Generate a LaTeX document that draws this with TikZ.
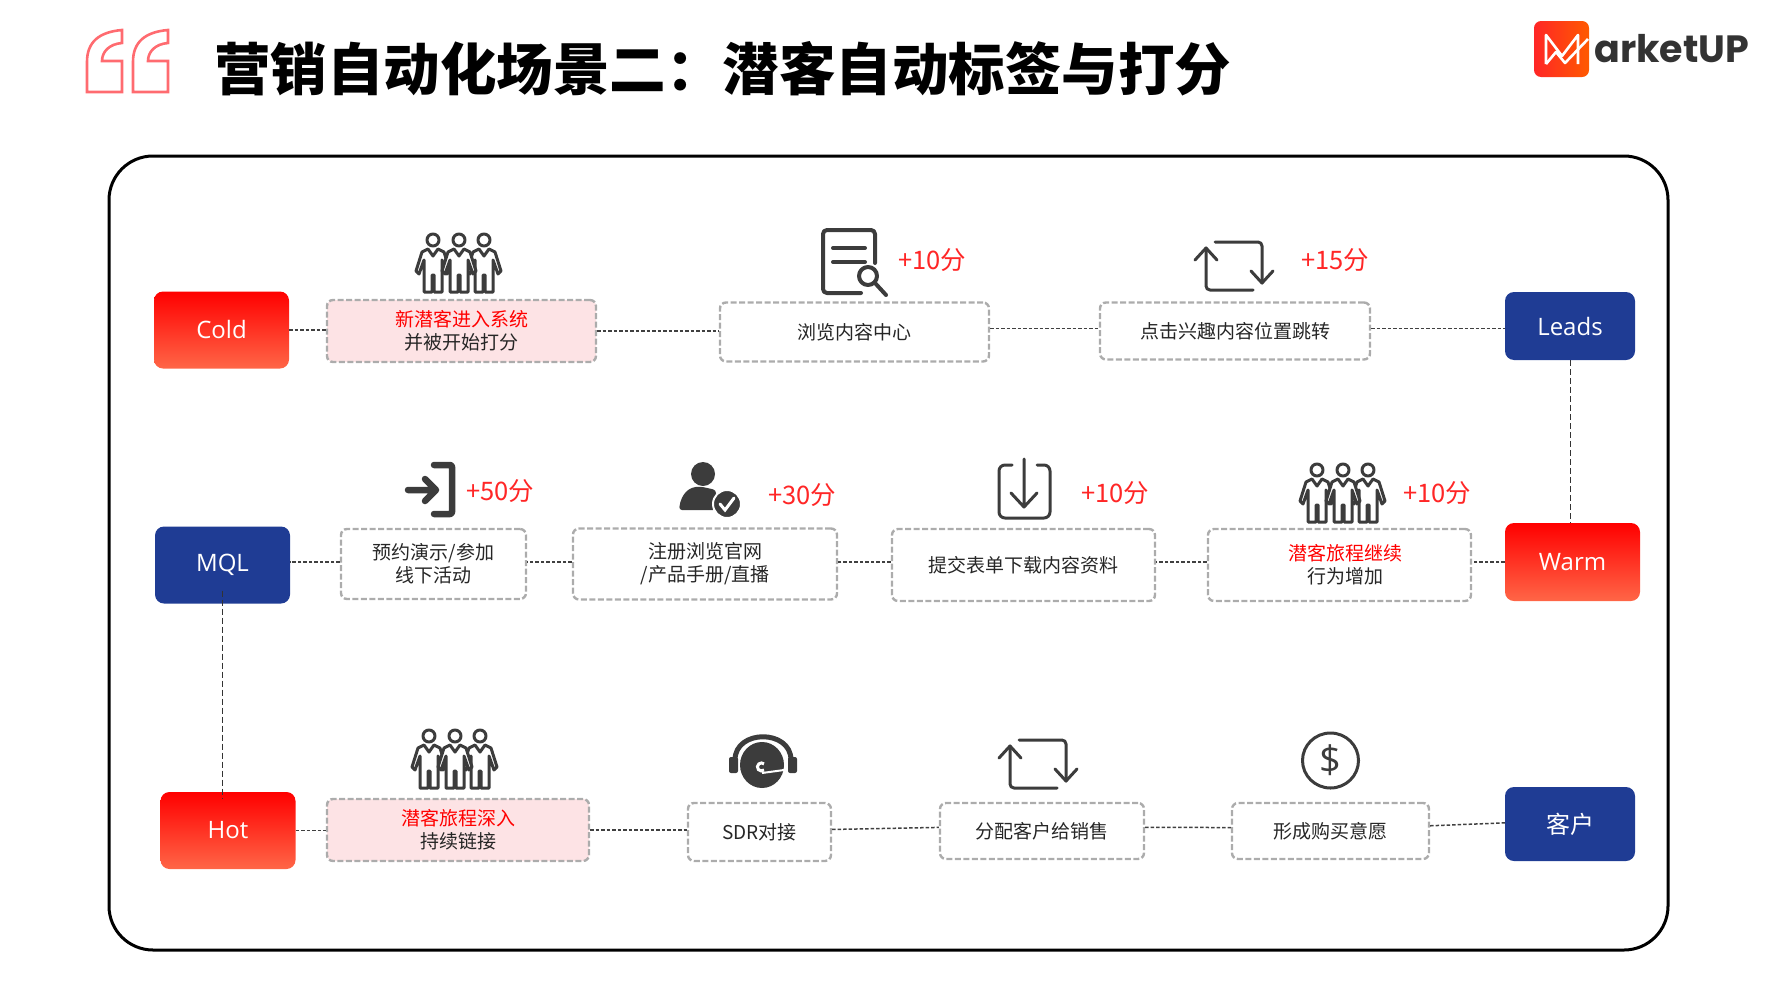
\documentclass[tikz,border=0pt]{standalone}
\usepackage{fontspec}
\usetikzlibrary{shapes.geometric}
\setmainfont{Noto Sans CJK SC}
\newfontfamily\latinfont{Open Sans}
\newfontfamily\logofont{Poppins}
\definecolor{iconc}{HTML}{3C3C3C}
\definecolor{navyc}{HTML}{1F3C94}
\definecolor{dashc}{HTML}{ACACAC}
\definecolor{pinkc}{HTML}{FDE3E5}
\definecolor{quotec}{HTML}{FF6B70}
\definecolor{hotend}{HTML}{FF6647}
\tikzset{
  stagehot/.style={rectangle, rounded corners=9pt, minimum width=135pt, minimum height=77pt, top color=red, bottom color=hotend, text=white, font=\latinfont\fontsize{24}{28}\selectfont, inner sep=0pt},
  stagecool/.style={rectangle, rounded corners=9pt, minimum width=130pt, minimum height=68pt, fill=navyc, text=white, font=\latinfont\fontsize{24}{28}\selectfont, inner sep=0pt},
  stepbox/.style={rectangle, draw=dashc, rounded corners=6pt, line width=2.4pt, dash pattern=on 6pt off 2.5pt, text=black!85, align=center, font=\fontsize{19}{23}\selectfont, inner sep=0pt},
  pinkbox/.style={stepbox, fill=pinkc},
  score/.style={text=red!85!white, font=\fontsize{25.5}{28}\selectfont, inner sep=0pt},
  link/.style={draw=black!75, line width=1.5pt, dash pattern=on 3.5pt off 2pt},
  vlink/.style={draw=black!80, line width=1pt, dash pattern=on 6pt off 3pt},
  icon/.style={draw=iconc, line width=3pt, line cap=round, line join=round},
  person/.pic={
    \draw[icon, fill=white] (0,7) circle (6);
    \draw[icon, fill=white] (-5,16) -- (-11,19) -- (-17,38) -- (-14,41) -- (-9,27) -- (-9,59) -- (-1,59) -- (-1,42) -- (1,42) -- (1,59) -- (9,59) -- (9,27) -- (14,41) -- (17,38) -- (11,19) -- (5,16) -- (0,23) -- cycle;
  },
  people/.pic={
    \pic at (17,0) {person};
    \pic at (68,0) {person};
    \pic at (43,0) {person};
  },
  repeaticon/.pic={
    \draw[icon] (0,19) -- (11,7) -- (22,19);
    \draw[icon, rounded corners=4pt] (11,7) -- (11,49) -- (58,49);
    \draw[icon, rounded corners=4pt] (20,1) -- (67,1) -- (67,42);
    \draw[icon] (56,30) -- (67,42) -- (78,30);
  },
  quotemark/.pic={
    \draw[quotec, line width=2.6pt] (35,0) .. controls (12,2) and (0,12) .. (0,32) -- (0,62) -- (35,62) -- (35,31) -- (15,31) .. controls (15,22) and (22,14) .. (35,13) -- cycle;
  }
}
\begin{document}
\begin{tikzpicture}[x=1pt, y=-1pt]
  \useasboundingbox (0,0) rectangle (1782,988);
  % title
  \pic at (87,30) {quotemark};
  \pic at (133,30) {quotemark};
  \node[anchor=west, inner sep=0pt, font=\bfseries\fontsize{56.5}{60}\selectfont] (title) at (214,69) {营销自动化场景二：潜客自动标签与打分};
  % logo
  \node[rectangle, rounded corners=7pt, minimum width=55pt, minimum height=56pt, left color=red!80!pink, right color=orange!70!red, inner sep=0pt] (logobox) at (1561.5,49) {};
  \draw[white, line width=2.6pt, line join=round] (1546,64) -- (1546,35) -- (1562,56) -- (1578,35) -- (1578,64);
  \draw[white, line width=2.6pt, line join=round] (1546,64) -- (1556,52) -- (1565,63) -- (1588,39);
  \node[anchor=west, inner sep=0pt, text=black!80, font=\logofont\bfseries\fontsize{38}{40}\selectfont] (logotext) at (1594,49) {arketUP};
  % frame
  \draw[line width=3pt, rounded corners=44pt] (109,156) rectangle (1668,950);
  % first row
  \node[stagehot] (cold) at (221.5,330) {\raisebox{2pt}{Cold}};
  \node[pinkbox, minimum width=269pt, minimum height=62pt] (enter) at (461.5,331) {\textcolor{red}{新潜客进入系统}\\并被开始打分};
  \node[stepbox, minimum width=269pt, minimum height=59pt] (browse) at (854.5,332) {\raisebox{2pt}{浏览内容中心}};
  \node[stepbox, minimum width=270pt, minimum height=57pt] (jump) at (1235,331) {\raisebox{-2pt}{点击兴趣内容位置跳转}};
  \node[stagecool] (leads) at (1570,326) {Leads};
  % second row
  \node[stagecool, minimum width=135pt, minimum height=77pt] (mql) at (222.5,565) {MQL};
  \node[stepbox, minimum width=185pt, minimum height=70pt] (demo) at (433.5,564) {预约演示/参加\\线下活动};
  \node[stepbox, minimum width=264pt, minimum height=71pt] (register) at (705,564) {注册浏览官网\\/产品手册/直播};
  \node[stepbox, minimum width=263pt, minimum height=72pt] (submit) at (1023.5,565) {提交表单下载内容资料};
  \node[stepbox, minimum width=263pt, minimum height=72pt] (journey) at (1339.5,565) {\hspace*{12pt}\textcolor{red}{潜客旅程继续}\\\hspace*{12pt}行为增加};
  \node[stagehot, minimum height=78pt] (warm) at (1572.5,562) {Warm};
  % third row
  \node[stagehot] (hot) at (228,830.5) {Hot};
  \node[pinkbox, minimum width=262pt, minimum height=62pt] (deep) at (458,830) {\textcolor{red}{潜客旅程深入}\\持续链接};
  \node[stepbox, minimum width=143pt, minimum height=58pt] (sdr) at (759.5,832) {SDR对接};
  \node[stepbox, minimum width=204pt, minimum height=56pt] (assign) at (1042,831) {分配客户给销售};
  \node[stepbox, minimum width=197pt, minimum height=56pt] (intent) at (1330.5,831) {形成购买意愿};
  \node[stagecool, minimum height=74pt, font=\fontsize{24}{28}\selectfont] (client) at (1570,824) {客户};
  % links
  \draw[link] (cold.east) -- (cold.east -| enter.west);
  \draw[link] (enter.east) -- (enter.east -| browse.west);
  \draw[link] (browse.east |- jump.1) -- (jump.1 -| jump.west);
  \draw[link] (jump.1) -- (jump.1 -| leads.west);
  \draw[vlink] (leads.south) -- (warm.north -| leads.south);
  \draw[link] (warm.west) -- (warm.west -| journey.east);
  \draw[link] (warm.west -| journey.west) -- (warm.west -| submit.east);
  \draw[link] (warm.west -| submit.west) -- (warm.west -| register.east);
  \draw[link] (warm.west -| register.west) -- (warm.west -| demo.east);
  \draw[link] (warm.west -| demo.west) -- (warm.west -| mql.east);
  \draw[vlink] (mql.south) ++(0,-13) -- (hot.north -| mql.south) -- ++(0,7);
  \draw[link] (hot.east) -- (hot.east -| deep.west);
  \draw[link] (deep.east) -- (deep.east -| sdr.west);
  \draw[link] (sdr.2) -- (assign.178);
  \draw[link] (assign.2) -- (intent.178);
  \draw[link] (intent.3) -- (client.179);
  % people icons
  \pic at (416,233) {people};
  \pic at (1300,463) {people};
  \pic at (412,729) {people};
  % repeat icons
  \pic at (1195,241) {repeaticon};
  \pic at (999,739) {repeaticon};
  % document with magnifier
  \draw[icon, line width=4pt, rounded corners=4pt] (861,293) -- (823,293) -- (823,230) -- (875,230) -- (875,263);
  \draw[icon, line width=4pt] (833,248) -- (865,248) (833,262) -- (865,262);
  \draw[icon, line width=4pt] (868,276) circle (9) (875,283) -- (886,295);
  % login
  \draw[icon, line width=6.5pt, rounded corners=2pt] (434,465) -- (452,465) -- (452,514) -- (434,514);
  \draw[icon, line width=6.5pt] (408,490) -- (434,490) (425,479) -- (436,490) -- (425,501);
  % user with check
  \fill[iconc] (703,474) circle (12);
  \fill[iconc, rounded corners=3pt] (679,510) .. controls (681,495) and (688,486) .. (703,487) -- (716,490) -- (716,510) -- cycle;
  \draw[white, line width=2pt, fill=iconc] (727,504) circle (14);
  \draw[white, line width=3pt, line cap=round] (720,504) -- (725,510) -- (734,498);
  % download
  \draw[icon, rounded corners=6pt] (1012,465) -- (999,465) -- (999,518) -- (1050,518) -- (1050,465) -- (1037,465);
  \draw[icon] (1024,459) -- (1024,507) (1011,493) -- (1024,507) -- (1037,493);
  % headset
  \fill[iconc] (762,765) ellipse (22 and 23);
  \draw[icon, line width=5pt, line cap=butt] (735,760) .. controls (735,729) and (791,729) .. (791,760);
  \fill[iconc, rounded corners=2pt] (729,757) rectangle (738,773);
  \fill[iconc, rounded corners=2pt] (788,757) rectangle (797,773);
  \draw[white, line width=3pt] (764,770) arc (50:310:4);
  \draw[white, line width=2pt] (762,773) -- (784,770);
  % dollar
  \node[ellipse, draw=iconc, line width=3pt, minimum width=56pt, minimum height=55pt, inner sep=0pt, text=iconc, font=\latinfont\fontsize{38}{40}\selectfont] (dollar) at (1330.5,760.5) {\$};
  % scores
  \node[score] (s1) at (932,260) {+10分};
  \node[score] (s2) at (1335,260) {+15分};
  \node[score] (s3) at (500,491) {+50分};
  \node[score] (s4) at (802,495) {+30分};
  \node[score] (s5) at (1115,493) {+10分};
  \node[score] (s6) at (1437,493) {+10分};
\end{tikzpicture}
\end{document}
